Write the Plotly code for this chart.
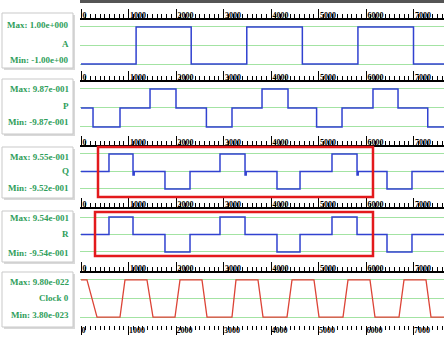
import plotly.graph_objects as go

W, H = 444, 337

# ---------------- data ----------------
ruler_ticks = [0, 1000, 2000, 3000, 4000, 5000, 6000, 7000]
ruler_labels = ["0", "1000", "2000", "3000", "4000", "5000", "6000", "7000"]

a_t = [0, 1160, 2320, 3490, 4660, 5830, 7000, 7650]
a_v = [-1, 1, -1, 1, -1, 1, -1, -1]

p_t = [0, 253, 821, 1453, 2000, 2640, 3179, 3811, 4358, 4960, 5495, 6147, 6674, 7300, 7650]
p_v = [0, -0.987, 0, 0.987, 0, -0.987, 0, 0.987, 0, -0.987, 0, 0.987, 0, -0.987, -0.987]

q_t = [0, 589, 1095, 1120, 1768, 2295, 2926, 3453, 3478, 4126, 4611, 5284, 5811, 5836, 6442, 6968, 7650]
q_v = [0, 0.955, -0.2, 0, -0.952, 0, 0.955, -0.2, 0, -0.952, 0, 0.955, -0.2, 0, -0.952, 0, 0]

r_t = [0, 589, 1095, 1768, 2295, 2926, 3453, 4126, 4611, 5284, 5811, 6442, 6968, 7650]
r_v = [0, 0.954, 0, -0.954, 0, 0.954, 0, -0.954, 0, 0.954, 0, -0.954, 0, 0]

c_hi, c_lo = 9.8e-22, 3.8e-23
c_t = [0, 126, 337, 821, 926, 1389, 1516, 1979, 2084, 2547, 2653, 3179, 3263, 3726,
       3832, 4337, 4442, 4905, 5011, 5516, 5621, 6084, 6189, 6695, 6800, 7263, 7368, 7650]
c_v = [c_hi, c_hi, c_lo, c_lo] * 7

names = ["A", "P", "Q", "R", "Clock 0"]
max_text = ["Max: 1.00e+000", "Max: 9.87e-001", "Max: 9.55e-001", "Max: 9.54e-001", "Max: 9.80e-022"]
min_text = ["Min: -1.00e+00", "Min: -9.87e-001", "Min: -9.52e-001", "Min: -9.54e-001", "Min: 3.80e-023"]
grid_levels = [[-1, 0, 1], [-0.987, 0, 0.987], [-0.952, 0, 0.955], [-0.954, 0, 0.954],
               [c_lo, (c_hi + c_lo) / 2, c_hi]]

# red highlight boxes (time range)
box_t0 = [358, 295]
box_t1 = [6147, 6147]

# ---------------- layout helpers ----------------
def py(pix):
    return 1 - pix / H

panels_px = [(20, 66), (82, 133), (147, 197), (209, 262), (273, 325)]
y_ranges = [[-1.108, 1.378], [-1.30, 1.35], [-1.39, 1.33], [-1.50, 1.39], [-1.63e-22, 1.156e-21]]
x_range = [-21, 7642]
x_dom = [80 / W, 1]

BLUE = "#3142d0"
RED = "#dc4437"
GRID = "#a3e3a3"
TXT = "#2f9e5a"
FONT = "Liberation Serif"

fig = go.Figure()
series = [(a_t, a_v, BLUE), (p_t, p_v, BLUE), (q_t, q_v, BLUE), (r_t, r_v, BLUE)]
for i, (t, v, col) in enumerate(series):
    fig.add_trace(go.Scatter(x=t, y=v, mode="lines", line=dict(color=col, width=1.5, shape="hv"),
                             xaxis="x" if i == 0 else f"x{i+1}", yaxis="y" if i == 0 else f"y{i+1}",
                             showlegend=False, hoverinfo="skip"))
fig.add_trace(go.Scatter(x=c_t, y=c_v, mode="lines", line=dict(color=RED, width=1.3),
                         xaxis="x5", yaxis="y5", showlegend=False, hoverinfo="skip"))
# invisible trace for bottom ruler axis
fig.add_trace(go.Scatter(x=[x_range[0], x_range[1]], y=[c_lo, c_lo], mode="lines",
                         line=dict(width=0), xaxis="x6", yaxis="y5", showlegend=False, hoverinfo="skip"))

layout = dict(width=W, height=H, margin=dict(l=0, r=0, t=0, b=0, autoexpand=False),
              paper_bgcolor="white", plot_bgcolor="white", showlegend=False)

def xaxis_def(anchor, side, overlay=None):
    d = dict(domain=x_dom, range=x_range, anchor=anchor, side=side, automargin=False,
             showline=True, linecolor="black", linewidth=2, mirror=False,
             ticks="outside", ticklen=9, tickwidth=1, tickcolor="black",
             tickvals=ruler_ticks, ticktext=ruler_labels,
             ticklabelposition="outside right", ticklabelstandoff=-3,
             tickfont=dict(family=FONT, size=8, color="black", weight="bold"),
             minor=dict(dtick=100, tick0=0, ticklen=4, tickwidth=1, tickcolor="black", ticks="outside", showgrid=False),
             showgrid=False, zeroline=False, fixedrange=True)
    if overlay:
        d["overlaying"] = overlay
    return d

for i, ((top, bot), yr) in enumerate(zip(panels_px, y_ranges)):
    xs = "xaxis" if i == 0 else f"xaxis{i+1}"
    ys = "yaxis" if i == 0 else f"yaxis{i+1}"
    yname = "y" if i == 0 else f"y{i+1}"
    layout[xs] = xaxis_def(yname, "top")
    layout[ys] = dict(domain=[py(bot), py(top)], range=yr, anchor="x" if i == 0 else f"x{i+1}",
                      tickvals=grid_levels[i], showticklabels=False, ticks="", automargin=False,
                      showgrid=True, gridcolor=GRID, gridwidth=1, zeroline=False,
                      showline=False, fixedrange=True)
layout["xaxis6"] = xaxis_def("y5", "bottom", overlay="x5")
layout["xaxis6"]["showline"] = False
fig.update_layout(**layout)

shapes = []
# dark frame band at very top
shapes.append(dict(type="rect", xref="paper", yref="paper", x0=80 / W, x1=1, y0=py(3), y1=1,
                   fillcolor="#555555", line=dict(width=0), layer="below"))

label_y = [(25, 44, 60), (89, 106, 122), (157, 171, 188), (218, 234, 253), (282, 298, 315)]
box_px = [(13, 68), (79, 134), (147, 198), (211, 262), (272, 327)]
for (b0, b1) in box_px:
    shapes.append(dict(type="rect", xref="paper", yref="paper", x0=4 / W, x1=75 / W,
                       y0=py(b1 + 2), y1=py(b0 + 2), fillcolor="#d9d9d9", line=dict(width=0), layer="below"))
    shapes.append(dict(type="rect", xref="paper", yref="paper", x0=2 / W, x1=73 / W,
                       y0=py(b1), y1=py(b0), fillcolor="white", line=dict(color="#c9c9c9", width=1), layer="below"))

# red highlight rectangles on Q and R
for k, (axn, (t0pix, t1pix)) in enumerate(zip(["x3", "x4"], [(147, 197), (212, 256)])):
    shapes.append(dict(type="rect", xref=axn, yref="paper", x0=box_t0[k], x1=box_t1[k],
                       y0=py(t1pix), y1=py(t0pix), line=dict(color="#e3191c", width=2.5),
                       fillcolor="rgba(0,0,0,0)"))

annotations = []
for i in range(5):
    for txt, yp in zip([max_text[i], names[i], min_text[i]], label_y[i]):
        annotations.append(dict(text=txt, xref="paper", yref="paper", x=71 / W, y=py(yp),
                                xanchor="right", yanchor="middle", showarrow=False,
                                font=dict(family=FONT, size=9, color=TXT, weight="bold")))

fig.update_layout(shapes=shapes, annotations=annotations)
fig.write_html("out.html", config={"displayModeBar": False},
               post_script="document.body.style.margin='0';document.body.style.padding='0';")
